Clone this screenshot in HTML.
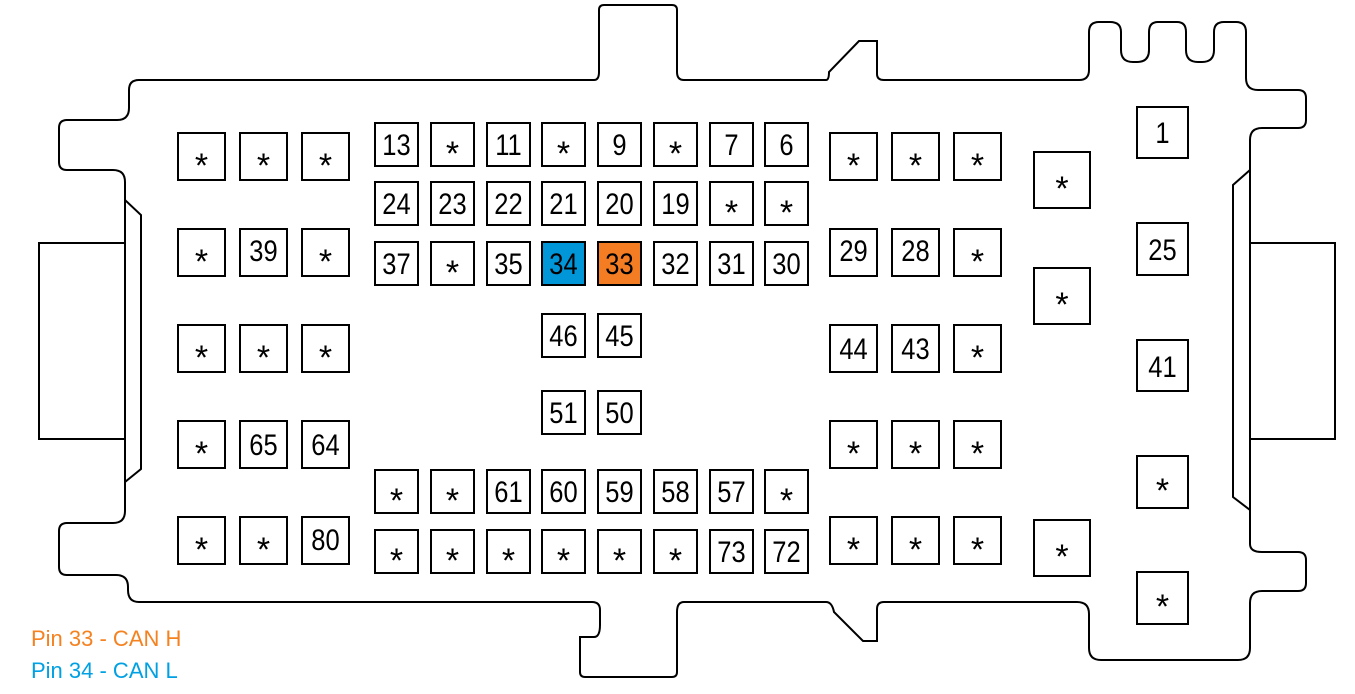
<!DOCTYPE html>
<html><head><meta charset="utf-8"><style>
html,body{margin:0;padding:0;background:#fff;}
svg{display:block}
.b{fill:#fff;stroke:#000;stroke-width:2}
.t{font-family:"Liberation Sans",Arial,sans-serif;font-size:30px;text-anchor:middle;fill:#000;transform-box:fill-box;transform-origin:center;transform:scaleX(0.85)}
.s{font-family:"Liberation Sans",Arial,sans-serif;font-size:34px;text-anchor:middle;fill:#000}
</style></head><body>
<svg width="1355" height="694" viewBox="0 0 1355 694" xmlns="http://www.w3.org/2000/svg">
<g fill="none" stroke="#000" stroke-width="2">
<path d="M139,80 L594,80 Q599,80 599,72 L599,10 Q599,5 604,5 L672,5 Q677,5 677,10 L677,72 Q677,80 684,80 L826,80 Q829,80 829,72 L859,41 L877,41 L877,74 Q877,80 884,80 L1079,80 Q1089,80 1089,70 L1089,32 Q1089,22 1099,22 L1110,22 Q1121,22 1121,32 L1121,50 Q1121,62 1133,62 L1137,62 Q1149,62 1149,50 L1149,32 Q1149,22 1158,22 L1177,22 Q1186,22 1186,32 L1186,50 Q1186,62 1198,62 L1202,62 Q1214,62 1214,50 L1214,32 Q1214,22 1224,22 L1236,22 Q1246,22 1246,32 L1246,78 Q1246,90 1258,90 L1298,90 Q1306,90 1306,98 L1306,120 Q1306,128 1298,128 L1262,128 Q1250,128 1250,140 L1250,170"/>
<path d="M1250,170 L1233,185 L1233,497 L1250,510"/>
<path d="M1250,170 L1250,544 Q1250,552 1262,552 L1298,552 Q1306,552 1306,560 L1306,583 Q1306,591 1298,591 L1262,591 Q1250,591 1250,603 L1250,648 Q1250,660 1238,660 L1101,660 Q1089,660 1089,648 L1089,614 Q1089,602 1077,602 L884,602 Q877,602 877,609 L877,641 L863,641 L834,612 Q832,602 826,602 L684,602 Q677,602 677,612 L677,672 Q677,677 672,677 L585,677 Q580,677 580,672 L580,637 L594,637 Q600,637 600,625 L600,610 Q600,602 592,602 L139,602 Q128,602 128,590 L128,587 Q128,575 116,575 L67,575 Q59,575 59,567 L59,531 Q59,523 67,523 L113,523 Q125,523 125,511 L125,482"/>
<path d="M125,482 L141,469 L141,215 L125,200"/>
<path d="M125,200 L125,182 Q125,170 113,170 L67,170 Q59,170 59,162 L59,128 Q59,120 67,120 L117,120 Q129,120 129,108 L129,90 Q129,80 139,80"/>
<path d="M125,200 L125,482"/>
<path d="M125,243 L39,243 L39,439 L125,439"/>
<path d="M1250,243 L1335,243 L1335,439 L1250,439"/>
</g>
<g>
<rect class="b" x="178" y="133" width="47" height="47"/><text class="s" x="201.5" y="177">*</text>
<rect class="b" x="240" y="133" width="47" height="47"/><text class="s" x="263.5" y="177">*</text>
<rect class="b" x="302" y="133" width="47" height="47"/><text class="s" x="325.5" y="177">*</text>
<rect class="b" x="178" y="229" width="47" height="47"/><text class="s" x="201.5" y="273">*</text>
<rect class="b" x="240" y="229" width="47" height="47"/><text class="t" x="263.5" y="261">39</text>
<rect class="b" x="302" y="229" width="47" height="47"/><text class="s" x="325.5" y="273">*</text>
<rect class="b" x="178" y="325" width="47" height="47"/><text class="s" x="201.5" y="369">*</text>
<rect class="b" x="240" y="325" width="47" height="47"/><text class="s" x="263.5" y="369">*</text>
<rect class="b" x="302" y="325" width="47" height="47"/><text class="s" x="325.5" y="369">*</text>
<rect class="b" x="178" y="421" width="47" height="47"/><text class="s" x="201.5" y="465">*</text>
<rect class="b" x="240" y="421" width="47" height="47"/><text class="t" x="263.5" y="455">65</text>
<rect class="b" x="302" y="421" width="47" height="47"/><text class="t" x="325.5" y="455">64</text>
<rect class="b" x="178" y="517" width="47" height="47"/><text class="s" x="201.5" y="561">*</text>
<rect class="b" x="240" y="517" width="47" height="47"/><text class="s" x="263.5" y="561">*</text>
<rect class="b" x="302" y="517" width="47" height="47"/><text class="t" x="325.5" y="550">80</text>
<rect class="b" x="830" y="133" width="47" height="47"/><text class="s" x="853.5" y="177">*</text>
<rect class="b" x="892" y="133" width="47" height="47"/><text class="s" x="915.5" y="177">*</text>
<rect class="b" x="954" y="133" width="47" height="47"/><text class="s" x="977.5" y="177">*</text>
<rect class="b" x="830" y="229" width="47" height="47"/><text class="t" x="853.5" y="261">29</text>
<rect class="b" x="892" y="229" width="47" height="47"/><text class="t" x="915.5" y="261">28</text>
<rect class="b" x="954" y="229" width="47" height="47"/><text class="s" x="977.5" y="273">*</text>
<rect class="b" x="830" y="325" width="47" height="47"/><text class="t" x="853.5" y="359">44</text>
<rect class="b" x="892" y="325" width="47" height="47"/><text class="t" x="915.5" y="359">43</text>
<rect class="b" x="954" y="325" width="47" height="47"/><text class="s" x="977.5" y="369">*</text>
<rect class="b" x="830" y="421" width="47" height="47"/><text class="s" x="853.5" y="465">*</text>
<rect class="b" x="892" y="421" width="47" height="47"/><text class="s" x="915.5" y="465">*</text>
<rect class="b" x="954" y="421" width="47" height="47"/><text class="s" x="977.5" y="465">*</text>
<rect class="b" x="830" y="517" width="47" height="47"/><text class="s" x="853.5" y="561">*</text>
<rect class="b" x="892" y="517" width="47" height="47"/><text class="s" x="915.5" y="561">*</text>
<rect class="b" x="954" y="517" width="47" height="47"/><text class="s" x="977.5" y="561">*</text>
<rect class="b" x="1034" y="152" width="56" height="56"/><text class="s" x="1062" y="200">*</text>
<rect class="b" x="1034" y="268" width="56" height="56"/><text class="s" x="1062" y="316">*</text>
<rect class="b" x="1034" y="520" width="56" height="56"/><text class="s" x="1062" y="568">*</text>
<rect class="b" x="1137" y="107" width="51" height="51"/><text class="t" x="1162.5" y="143">1</text>
<rect class="b" x="1137" y="223" width="51" height="52"/><text class="t" x="1162.5" y="260">25</text>
<rect class="b" x="1137" y="340" width="51" height="51"/><text class="t" x="1162.5" y="377">41</text>
<rect class="b" x="1137" y="456" width="51" height="52"/><text class="s" x="1162.5" y="502">*</text>
<rect class="b" x="1137" y="572" width="51" height="52"/><text class="s" x="1162.5" y="618">*</text>

<rect class="b" x="375" y="123" width="43" height="43"/><text class="t" x="396.5" y="155">13</text>
<rect class="b" x="431" y="123" width="43" height="43"/><text class="s" x="452.5" y="165">*</text>
<rect class="b" x="487" y="123" width="43" height="43"/><text class="t" x="508.5" y="155">11</text>
<rect class="b" x="542" y="123" width="43" height="43"/><text class="s" x="563.5" y="165">*</text>
<rect class="b" x="598" y="123" width="43" height="43"/><text class="t" x="619.5" y="155">9</text>
<rect class="b" x="654" y="123" width="43" height="43"/><text class="s" x="675.5" y="165">*</text>
<rect class="b" x="710" y="123" width="43" height="43"/><text class="t" x="731.5" y="155">7</text>
<rect class="b" x="765" y="123" width="43" height="43"/><text class="t" x="786.5" y="155">6</text>

<rect class="b" x="375" y="182" width="43" height="43"/><text class="t" x="396.5" y="214">24</text>
<rect class="b" x="431" y="182" width="43" height="43"/><text class="t" x="452.5" y="214">23</text>
<rect class="b" x="487" y="182" width="43" height="43"/><text class="t" x="508.5" y="214">22</text>
<rect class="b" x="542" y="182" width="43" height="43"/><text class="t" x="563.5" y="214">21</text>
<rect class="b" x="598" y="182" width="43" height="43"/><text class="t" x="619.5" y="214">20</text>
<rect class="b" x="654" y="182" width="43" height="43"/><text class="t" x="675.5" y="214">19</text>
<rect class="b" x="710" y="182" width="43" height="43"/><text class="s" x="731.5" y="224">*</text>
<rect class="b" x="765" y="182" width="43" height="43"/><text class="s" x="786.5" y="224">*</text>

<rect class="b" x="375" y="242" width="43" height="43"/><text class="t" x="396.5" y="274">37</text>
<rect class="b" x="431" y="242" width="43" height="43"/><text class="s" x="452.5" y="284">*</text>
<rect class="b" x="487" y="242" width="43" height="43"/><text class="t" x="508.5" y="274">35</text>
<rect x="542" y="242" width="43" height="43" fill="#0096d8" stroke="#000" stroke-width="2"/><text class="t" x="563.5" y="274">34</text>
<rect x="598" y="242" width="43" height="43" fill="#f47c22" stroke="#000" stroke-width="2"/><text class="t" x="619.5" y="274">33</text>
<rect class="b" x="654" y="242" width="43" height="43"/><text class="t" x="675.5" y="274">32</text>
<rect class="b" x="710" y="242" width="43" height="43"/><text class="t" x="731.5" y="274">31</text>
<rect class="b" x="765" y="242" width="43" height="43"/><text class="t" x="786.5" y="274">30</text>

<rect class="b" x="542" y="314" width="43" height="43"/><text class="t" x="563.5" y="346">46</text>
<rect class="b" x="598" y="314" width="43" height="43"/><text class="t" x="619.5" y="346">45</text>
<rect class="b" x="542" y="391" width="43" height="43"/><text class="t" x="563.5" y="423">51</text>
<rect class="b" x="598" y="391" width="43" height="43"/><text class="t" x="619.5" y="423">50</text>

<rect class="b" x="375" y="470" width="43" height="43"/><text class="s" x="396.5" y="512">*</text>
<rect class="b" x="431" y="470" width="43" height="43"/><text class="s" x="452.5" y="512">*</text>
<rect class="b" x="487" y="470" width="43" height="43"/><text class="t" x="508.5" y="502">61</text>
<rect class="b" x="542" y="470" width="43" height="43"/><text class="t" x="563.5" y="502">60</text>
<rect class="b" x="598" y="470" width="43" height="43"/><text class="t" x="619.5" y="502">59</text>
<rect class="b" x="654" y="470" width="43" height="43"/><text class="t" x="675.5" y="502">58</text>
<rect class="b" x="710" y="470" width="43" height="43"/><text class="t" x="731.5" y="502">57</text>
<rect class="b" x="765" y="470" width="43" height="43"/><text class="s" x="786.5" y="512">*</text>

<rect class="b" x="375" y="530" width="43" height="43"/><text class="s" x="396.5" y="572">*</text>
<rect class="b" x="431" y="530" width="43" height="43"/><text class="s" x="452.5" y="572">*</text>
<rect class="b" x="487" y="530" width="43" height="43"/><text class="s" x="508.5" y="572">*</text>
<rect class="b" x="542" y="530" width="43" height="43"/><text class="s" x="563.5" y="572">*</text>
<rect class="b" x="598" y="530" width="43" height="43"/><text class="s" x="619.5" y="572">*</text>
<rect class="b" x="654" y="530" width="43" height="43"/><text class="s" x="675.5" y="572">*</text>
<rect class="b" x="710" y="530" width="43" height="43"/><text class="t" x="731.5" y="562">73</text>
<rect class="b" x="765" y="530" width="43" height="43"/><text class="t" x="786.5" y="562">72</text>
</g>
<text x="31" y="646" font-family="'Liberation Sans',Arial,sans-serif" font-size="22" fill="#f58220">Pin 33 - CAN H</text>
<text x="31" y="678" font-family="'Liberation Sans',Arial,sans-serif" font-size="22" fill="#00a0e3">Pin 34 - CAN L</text>
</svg>
</body></html>
